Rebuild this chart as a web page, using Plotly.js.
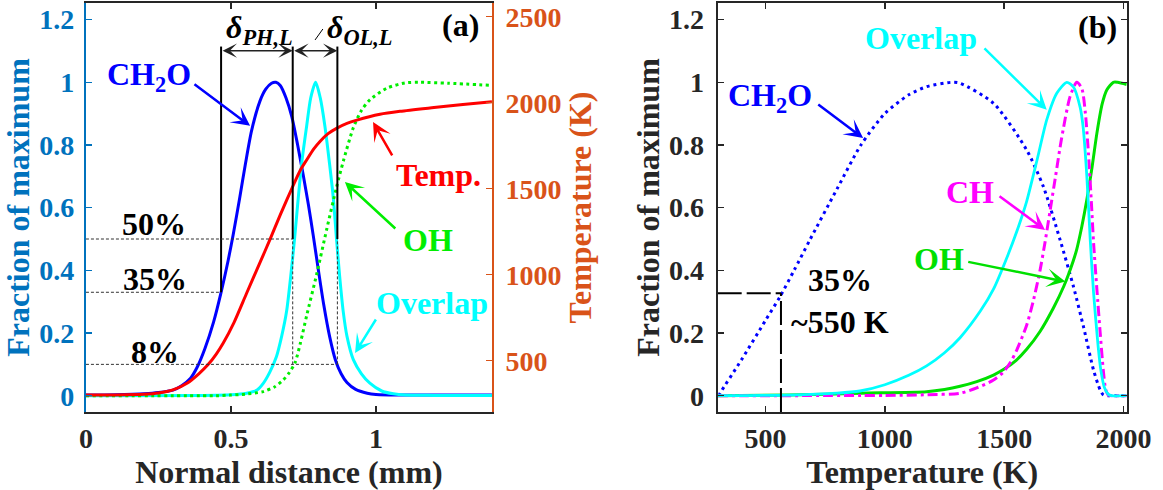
<!DOCTYPE html>
<html>
<head>
<meta charset="utf-8">
<script src="https://cdn.plot.ly/plotly-3.0.1.min.js"></script>
<style>html,body{margin:0;padding:0;background:#fff;}#chart{width:1163px;height:490px;}</style>
</head>
<body>
<div id="chart"></div>
<script>
// ---------- Panel (a): fraction of maximum vs normal distance (mm) ----------
const distCH2O = [0, 0.1, 0.2, 0.25, 0.3, 0.33, 0.36, 0.383, 0.41, 0.44, 0.466, 0.49, 0.508, 0.53, 0.55, 0.571, 0.6, 0.62, 0.64, 0.655, 0.67, 0.69, 0.71, 0.73, 0.75, 0.767, 0.784, 0.80, 0.82, 0.84, 0.86, 0.88, 0.90, 0.93, 0.97, 1.0, 1.1, 1.4];
const fracCH2O_a = [0.002, 0.003, 0.006, 0.01, 0.018, 0.032, 0.055, 0.09, 0.15, 0.235, 0.33, 0.43, 0.515, 0.63, 0.74, 0.845, 0.94, 0.978, 0.997, 1.0, 0.99, 0.95, 0.89, 0.80, 0.70, 0.61, 0.51, 0.41, 0.29, 0.19, 0.115, 0.07, 0.042, 0.02, 0.008, 0.004, 0.002, 0.002];

const distOverlap = [0, 0.4, 0.5, 0.554, 0.59, 0.612, 0.634, 0.657, 0.675, 0.692, 0.706, 0.72, 0.732, 0.745, 0.761, 0.775, 0.792, 0.808, 0.824, 0.84, 0.853, 0.864, 0.875, 0.887, 0.9, 0.922, 0.95, 0.979, 1.02, 1.06, 1.1, 1.2, 1.4];
const fracOverlap_a = [0, 0.001, 0.003, 0.008, 0.018, 0.04, 0.075, 0.125, 0.19, 0.27, 0.38, 0.507, 0.63, 0.75, 0.86, 0.95, 1.0, 0.95, 0.86, 0.74, 0.63, 0.5, 0.38, 0.27, 0.19, 0.115, 0.07, 0.04, 0.015, 0.006, 0.002, 0.001, 0.001];

const distOH = [0, 0.45, 0.497, 0.55, 0.611, 0.65, 0.68, 0.70, 0.721, 0.74, 0.761, 0.795, 0.83, 0.864, 0.888, 0.922, 0.95, 0.979, 1.037, 1.1, 1.15, 1.25, 1.4];
const fracOH_a = [0, 0, 0.002, 0.005, 0.013, 0.028, 0.05, 0.072, 0.105, 0.17, 0.255, 0.385, 0.53, 0.665, 0.75, 0.855, 0.91, 0.944, 0.981, 0.998, 1.0, 0.997, 0.99];

const distTemp = [0, 0.1, 0.2, 0.25, 0.3, 0.35, 0.39, 0.422, 0.45, 0.473, 0.51, 0.554, 0.6, 0.634, 0.67, 0.715, 0.74, 0.761, 0.785, 0.807, 0.835, 0.864, 0.9, 0.934, 1.014, 1.083, 1.2, 1.3, 1.4];
const tempK = [300, 301, 305, 312, 330, 370, 425, 479, 540, 601, 720, 892, 1070, 1202, 1348, 1520, 1610, 1667, 1730, 1775, 1820, 1851, 1880, 1899, 1933, 1950, 1972, 1990, 2006];

// ---------- Panel (b): fraction of maximum vs temperature (K) ----------
const tCH2O = [305, 310, 400, 500, 561, 620, 686, 800, 900, 1000, 1100, 1175, 1280, 1315, 1455, 1594, 1664, 1734, 1790, 1832, 1874, 1902, 1916, 1940, 2013];
const fracCH2O_b = [0, 0.008, 0.115, 0.24, 0.316, 0.40, 0.497, 0.66, 0.80, 0.90, 0.96, 0.986, 1.0, 0.997, 0.933, 0.784, 0.667, 0.497, 0.348, 0.22, 0.082, 0.018, 0.002, 0, 0];

const tOverlap = [300, 600, 800, 896, 1000, 1100, 1175, 1250, 1315, 1400, 1455, 1516, 1560, 1594, 1640, 1678, 1720, 1762, 1790, 1818, 1830, 1846, 1860, 1874, 1893, 1905, 1920, 1935, 1950, 2013];
const fracOverlap_b = [0, 0.002, 0.008, 0.015, 0.035, 0.065, 0.095, 0.137, 0.185, 0.27, 0.34, 0.45, 0.54, 0.62, 0.76, 0.88, 0.965, 1.0, 0.985, 0.92, 0.86, 0.70, 0.50, 0.33, 0.16, 0.08, 0.025, 0.005, 0, 0];

const tCH = [300, 1000, 1175, 1315, 1385, 1455, 1496, 1525, 1552, 1594, 1621, 1650, 1671, 1692, 1715, 1740, 1776, 1804, 1825, 1840, 1853, 1864, 1874, 1888, 1902, 1915, 1925, 1936, 1955, 2013];
const fracCH_b = [0, 0.001, 0.003, 0.008, 0.025, 0.05, 0.075, 0.105, 0.145, 0.225, 0.30, 0.40, 0.49, 0.59, 0.70, 0.82, 0.955, 1.0, 0.98, 0.90, 0.77, 0.63, 0.49, 0.34, 0.20, 0.08, 0.02, 0.002, 0, 0];

const tOH = [300, 600, 900, 1175, 1250, 1315, 1385, 1455, 1500, 1550, 1594, 1650, 1706, 1750, 1789, 1804, 1825, 1846, 1868, 1888, 1910, 1930, 1957, 1975, 2013];
const fracOH_b = [0, 0.002, 0.008, 0.013, 0.02, 0.03, 0.045, 0.066, 0.085, 0.113, 0.148, 0.205, 0.28, 0.35, 0.43, 0.468, 0.54, 0.625, 0.73, 0.837, 0.93, 0.976, 1.0, 1.0, 0.993];

// Threshold levels shown as dashed guides
const levelPH = [0.33, 0.5, 0.1];

const BLUE_AX = '#0072BD', ORANGE_AX = '#D95319', DARK = '#262626';
const FONT = 'Liberation Serif, "Times New Roman", serif';
const SM = 0.7;

const traces = [
  {x: distCH2O, y: fracCH2O_a, type: 'scatter', mode: 'lines', xaxis: 'x', yaxis: 'y', line: {color: '#0000FF', width: 3, shape: 'spline', smoothing: SM}},
  {x: distOverlap, y: fracOverlap_a, type: 'scatter', mode: 'lines', xaxis: 'x', yaxis: 'y', line: {color: '#00FFFF', width: 3, shape: 'spline', smoothing: SM}},
  {x: distOH, y: fracOH_a, type: 'scatter', mode: 'lines', xaxis: 'x', yaxis: 'y', line: {color: '#00EE00', width: 3, dash: '3px,3.5px', shape: 'spline', smoothing: SM}},
  {x: distTemp, y: tempK, type: 'scatter', mode: 'lines', xaxis: 'x', yaxis: 'y2', line: {color: '#FF0000', width: 3, shape: 'spline', smoothing: SM}},
  {x: tCH2O, y: fracCH2O_b, type: 'scatter', mode: 'lines', xaxis: 'x2', yaxis: 'y3', line: {color: '#0000FF', width: 3, dash: '3px,4px', shape: 'spline', smoothing: SM}},
  {x: tOH, y: fracOH_b, type: 'scatter', mode: 'lines', xaxis: 'x2', yaxis: 'y3', line: {color: '#00E000', width: 3, shape: 'spline', smoothing: SM}},
  {x: tCH, y: fracCH_b, type: 'scatter', mode: 'lines', xaxis: 'x2', yaxis: 'y3', line: {color: '#FF00FF', width: 3, dash: '10px,4px,3px,4px', shape: 'spline', smoothing: SM}},
  {x: tOverlap, y: fracOverlap_b, type: 'scatter', mode: 'lines', xaxis: 'x2', yaxis: 'y3', line: {color: '#00FFFF', width: 2.8, shape: 'spline', smoothing: SM}}
];

const xA = [0.466, 0.713, 0.867];
const topY = 1.114;
const thinDash = {color: '#333', width: 1, dash: '3px,2px'};
const shapes = [
  {type: 'line', xref: 'x', yref: 'y', x0: xA[0], x1: xA[0], y0: levelPH[0], y1: topY, line: {color: '#000', width: 2}},
  {type: 'line', xref: 'x', yref: 'y', x0: xA[1], x1: xA[1], y0: levelPH[1], y1: topY, line: {color: '#000', width: 2}},
  {type: 'line', xref: 'x', yref: 'y', x0: xA[2], x1: xA[2], y0: levelPH[1], y1: topY, line: {color: '#000', width: 2}},
  {type: 'line', xref: 'x', yref: 'y', x0: xA[1], x1: xA[1], y0: levelPH[2], y1: levelPH[1], line: thinDash},
  {type: 'line', xref: 'x', yref: 'y', x0: xA[2], x1: xA[2], y0: levelPH[2], y1: levelPH[1], line: thinDash},
  {type: 'line', xref: 'x', yref: 'y', x0: 0, x1: xA[1], y0: levelPH[1], y1: levelPH[1], line: thinDash},
  {type: 'line', xref: 'x', yref: 'y', x0: 0, x1: xA[0], y0: levelPH[0], y1: levelPH[0], line: thinDash},
  {type: 'line', xref: 'x', yref: 'y', x0: 0, x1: xA[2], y0: levelPH[2], y1: levelPH[2], line: thinDash},
  {type: 'line', xref: 'x', yref: 'y', x0: 0.790, x1: 0.817, y0: 1.135, y1: 1.170, line: {color: '#000', width: 1}},
  {type: 'line', xref: 'x2', yref: 'y3', x0: 300, x1: 565, y0: 0.327, y1: 0.327, line: {color: '#000', width: 2, dash: '24px,5px'}},
  {type: 'line', xref: 'x2', yref: 'y3', x0: 565, x1: 565, y0: -0.052, y1: 0.327, line: {color: '#000', width: 2, dash: '24px,5px'}}
];

function txt(x, y, text, color, xref, yref, size) {
  return {x: x, y: y, xref: xref, yref: yref, text: text, showarrow: false,
          font: {family: FONT, size: size || 32, color: color, weight: 700}, xanchor: 'center', yanchor: 'middle'};
}
function arr(x, y, ax, ay, color, xref, yref) {
  return {x: x, y: y, ax: ax, ay: ay, xref: xref, yref: yref, axref: xref, ayref: yref, text: '',
          showarrow: true, arrowhead: 3, arrowsize: 1.25, arrowwidth: 2.5, arrowcolor: color, standoff: 0, startstandoff: 0};
}
function dbl(x, y, ax, ay) {
  return {x: x, y: y, ax: ax, ay: ay, xref: 'x', yref: 'y', axref: 'x', ayref: 'y', text: '',
          showarrow: true, arrowhead: 3, startarrowhead: 3, arrowside: 'end+start', arrowsize: 1.6, startarrowsize: 1.6,
          arrowwidth: 1.5, arrowcolor: '#222', standoff: 0, startstandoff: 0};
}

const annotations = [
  txt(0.217, 1.02, 'CH<sub>2</sub>O', '#0000FF', 'x', 'y'),
  arr(0.566, 0.861, 0.369, 0.997, '#0000FF', 'x', 'y'),
  txt(0.598, 1.17, '<i>δ</i><sub><i>PH,L</i></sub>', '#000', 'x', 'y'),
  txt(0.945, 1.17, '<i>δ</i><sub><i>OL,L</i></sub>', '#000', 'x', 'y'),
  dbl(xA[1], 1.101, xA[0], 1.101),
  dbl(xA[2], 1.101, xA[1], 1.101),
  txt(1.293, 1.183, '(a)', '#000', 'x', 'y'),
  txt(1.217, 0.704, 'Temp.', '#FF0000', 'x', 'y'),
  arr(0.990, 0.873, 1.059, 0.762, '#FF0000', 'x', 'y'),
  txt(1.179, 0.497, 'OH', '#00EE00', 'x', 'y'),
  arr(0.893, 0.682, 1.072, 0.529, '#00EE00', 'x', 'y'),
  txt(1.193, 0.295, 'Overlap', '#00FFFF', 'x', 'y'),
  arr(0.928, 0.136, 1.003, 0.248, '#00FFFF', 'x', 'y'),
  txt(0.234, 0.548, '50%', '#000', 'x', 'y'),
  txt(0.238, 0.372, '35%', '#000', 'x', 'y'),
  txt(0.238, 0.14, '8%', '#000', 'x', 'y'),

  txt(1889, 1.176, '(b)', '#000', 'x2', 'y3'),
  txt(1151, 1.141, 'Overlap', '#00FFFF', 'x2', 'y3'),
  arr(1678, 0.912, 1411, 1.113, '#00FFFF', 'x2', 'y3'),
  txt(519, 0.95, 'CH<sub>2</sub>O', '#0000FF', 'x2', 'y3'),
  arr(909, 0.822, 715, 0.933, '#0000FF', 'x2', 'y3'),
  txt(1357, 0.65, 'CH', '#FF00FF', 'x2', 'y3'),
  arr(1671, 0.529, 1474, 0.64, '#FF00FF', 'x2', 'y3'),
  txt(1228, 0.436, 'OH', '#00E000', 'x2', 'y3'),
  arr(1756, 0.364, 1343, 0.428, '#00E000', 'x2', 'y3'),
  txt(812, 0.369, '35%', '#000', 'x2', 'y3'),
  txt(812, 0.235, '~550 K', '#000', 'x2', 'y3')
];

const tickFont = {family: FONT, size: 28, weight: 700};
const titleFont = {family: FONT, size: 32, weight: 700};
const common = {showgrid: false, zeroline: false, showline: true, linewidth: 2, ticks: 'inside', ticklen: 6, tickwidth: 1.5};

const layout = {
  width: 1163, height: 490,
  margin: {l: 0, r: 0, t: 3, b: 78, pad: 0},
  paper_bgcolor: '#fff', plot_bgcolor: '#fff',
  showlegend: false,
  font: {family: FONT, size: 28, color: DARK, weight: 700},
  xaxis: Object.assign({}, common, {
    domain: [0.0739, 0.4230], range: [0, 1.4], dtick: 0.5, tick0: 0, anchor: 'y',
    mirror: 'ticks', linecolor: DARK, tickcolor: DARK, tickfont: Object.assign({color: DARK}, tickFont),
    ticklabelstandoff: 0,
    title: {text: 'Normal distance (mm)', font: Object.assign({color: DARK}, titleFont), standoff: 4}
  }),
  yaxis: Object.assign({}, common, {
    domain: [0, 1], range: [-0.052, 1.253], dtick: 0.2, tick0: 0, anchor: 'x',
    linecolor: BLUE_AX, tickcolor: BLUE_AX, tickfont: Object.assign({color: BLUE_AX}, tickFont),
    ticklabelstandoff: 4,
    title: {text: 'Fraction of maximum', font: Object.assign({color: BLUE_AX}, titleFont), standoff: 0}
  }),
  yaxis2: Object.assign({}, common, {
    overlaying: 'y', side: 'right', anchor: 'x', range: [201.7, 2579.7], dtick: 500, tick0: 0,
    linecolor: ORANGE_AX, tickcolor: ORANGE_AX, tickfont: Object.assign({color: ORANGE_AX}, tickFont),
    ticklabelstandoff: 6,
    title: {text: 'Temperature (K)', font: Object.assign({color: ORANGE_AX}, titleFont), standoff: 8}
  }),
  xaxis2: Object.assign({}, common, {
    domain: [0.6171, 0.9688], range: [300, 2013], dtick: 500, tick0: 0, anchor: 'y3',
    mirror: 'ticks', linecolor: DARK, tickcolor: DARK, tickfont: Object.assign({color: DARK}, tickFont),
    ticklabelstandoff: 0,
    title: {text: 'Temperature (K)', font: Object.assign({color: DARK}, titleFont), standoff: 4}
  }),
  yaxis3: Object.assign({}, common, {
    domain: [0, 1], range: [-0.052, 1.253], dtick: 0.2, tick0: 0, anchor: 'x2',
    mirror: 'ticks', linecolor: DARK, tickcolor: DARK, tickfont: Object.assign({color: DARK}, tickFont),
    ticklabelstandoff: 6,
    title: {text: 'Fraction of maximum', font: Object.assign({color: DARK}, titleFont), standoff: 0}
  }),
  shapes: shapes,
  annotations: annotations
};

Plotly.newPlot('chart', traces, layout, {displayModeBar: false, staticPlot: true});
</script>
</body>
</html>
